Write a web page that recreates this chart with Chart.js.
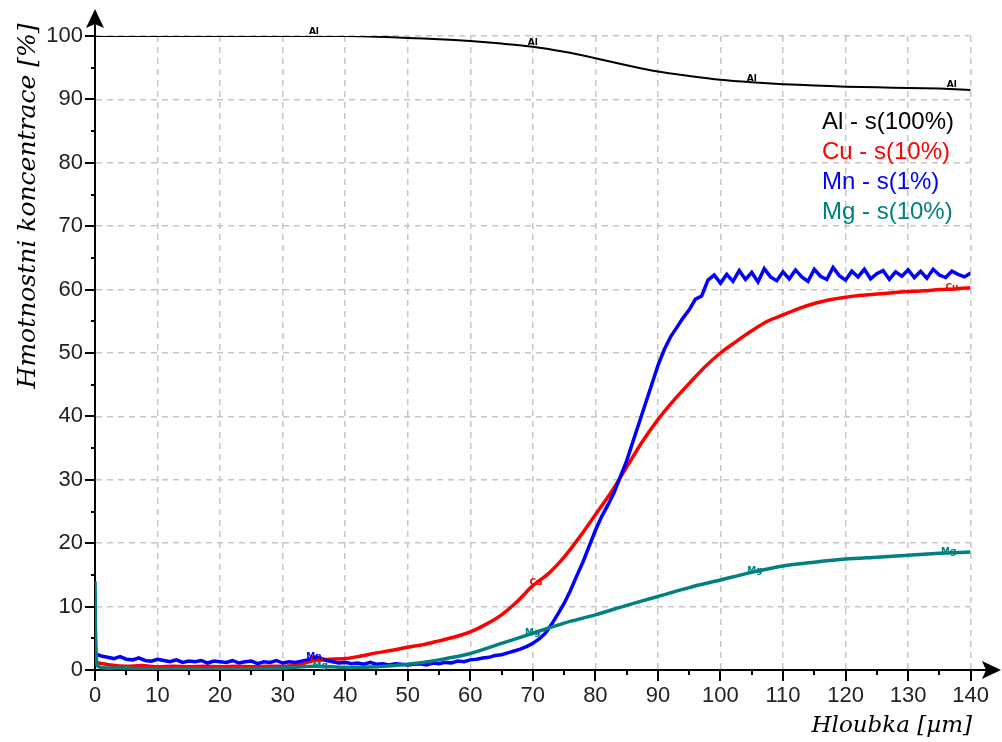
<!DOCTYPE html>
<html><head><meta charset="utf-8">
<script src="https://cdn.jsdelivr.net/npm/chart.js@4.4.0/dist/chart.umd.min.js"></script>
<style>html,body{margin:0;padding:0;background:#fff;}#wrap{width:1002px;height:742px;position:relative;}</style>
</head><body><div id="wrap"><canvas id="c" width="1002" height="742"></canvas></div>
<script>
// ---- data ----
const xTickLabels = ['0','10','20','30','40','50','60','70','80','90','100','110','120','130','140'];
const yTickLabels = ['0','10','20','30','40','50','60','70','80','90','100'];

const alX = [0,5,10,15,20,25,30,35,40,45,50,55,60,65,70,75,80,85,90,95,100,105,110,115,120,125,130,135,140];
const alY = [100,100,100,100,100,100,100,100,100,99.9,99.7,99.5,99.2,98.8,98.3,97.5,96.5,95.4,94.4,93.7,93.1,92.7,92.4,92.2,92.0,91.9,91.8,91.7,91.5];

const cuX = [0,2.5,5,7.5,10,12.5,15,17.5,20,22.5,25,27.5,30,32.5,35,37.5,40,42.5,45,47.5,50,52.5,55,57.5,60,62.5,65,67.5,70,72.5,75,77.5,80,82.5,85,87.5,90,92.5,95,97.5,100,102.5,105,107.5,110,112.5,115,117.5,120,122.5,125,127.5,130,132.5,135,137.5,140];
const cuY = [1.2,0.8,0.6,0.7,0.5,0.6,0.5,0.6,0.5,0.6,0.5,0.6,0.6,0.8,1.5,1.7,1.8,2.2,2.7,3.1,3.6,4.0,4.6,5.2,6.0,7.2,8.7,10.8,13.3,15.2,17.8,21.0,24.5,28.0,32.0,36.0,39.5,42.5,45.2,47.8,50.0,51.8,53.5,55.0,56.0,57.0,57.8,58.4,58.8,59.1,59.3,59.5,59.7,59.8,60.0,60.1,60.3];

const mnX = [0,1,2,3,4,5,6,7,8,9,10,11,12,13,14,15,16,17,18,19,20,21,22,23,24,25,26,27,28,29,30,31,32,33,34,35,36,37,38,39,40,41,42,43,44,45,46,47,48,49,50,51,52,53,54,55,56,57,58,59,60,61,62,63,64,65,66,67,68,69,70,71,72,73,74,75,76,77,78,79,80,81,82,83,84,85,86,87,88,89,90,91,92,93,94,95,96,97,98,99,100,101,102,103,104,105,106,107,108,109,110,111,112,113,114,115,116,117,118,119,120,121,122,123,124,125,126,127,128,129,130,131,132,133,134,135,136,137,138,139,140];
const mnY = [2.6,2.2,2.0,1.8,2.1,1.7,1.6,1.9,1.5,1.4,1.7,
  1.5,1.3,1.6,1.2,1.4,1.3,1.5,1.1,1.4,1.3,
  1.2,1.5,1.1,1.3,1.4,1.0,1.3,1.2,1.5,1.1,
  1.3,1.2,1.4,1.6,2.0,1.9,1.5,1.3,1.1,1.2,
  1.0,1.1,0.9,1.2,0.9,1.0,0.8,1.0,0.9,0.8,
  0.9,1.0,0.8,1.1,1.0,1.2,1.1,1.4,1.3,1.6,
  1.7,1.9,2.0,2.3,2.4,2.7,3.0,3.3,3.7,4.2,
  4.9,5.8,7.2,8.8,10.5,12.5,14.8,17.0,19.5,22.0,
  24.2,26.0,28.0,30.5,33.0,36.0,39.0,42.0,45.0,48.0,
  50.5,52.5,54.0,55.5,56.8,58.5,59.0,61.5,62.3,61.0,
  62.4,61.3,63.0,61.6,62.7,61.2,63.3,62.0,61.4,62.8,
  61.7,63.1,62.0,61.3,63.2,62.1,61.6,63.5,62.2,61.5,
  62.9,62.0,63.2,61.7,62.5,63.0,61.6,62.8,62.1,63.1,
  61.9,62.9,61.8,63.2,62.3,61.9,62.9,62.4,62.0,62.6];

const mgX = [0,0.3,5,10,15,20,25,30,35,40,45,50,55,60,65,70,75,80,85,90,95,100,105,110,115,120,125,130,135,140];
const mgY = [14,0.8,0.3,0.2,0.2,0.2,0.2,0.3,0.6,0.4,0.5,0.9,1.6,2.6,4.2,5.8,7.4,8.7,10.2,11.6,13.0,14.2,15.4,16.4,17.0,17.5,17.8,18.1,18.4,18.6];

const seriesNames = ['Al - s(100%)','Cu - s(10%)','Mn - s(1%)','Mg - s(10%)'];
const seriesColors = ['#000000','#ff0000','#0000ff','#008080'];
const markerTags = ['Al','Cu','Mn','Mg'];
const markerXs = [[35,70,105,137],[35.5,70.5,137],[35],[36,70,105.5,136.5]];

const TICK_FONT = '"Liberation Sans Narrow","Liberation Sans",Arial,sans-serif';

function pts(xs, ys){ return xs.map((x,i)=>({x:x,y:ys[i]})); }
function interp(xs, ys, x){
  for(let i=0;i<xs.length-1;i++){
    if(x>=xs[i] && x<=xs[i+1]){ const t=(x-xs[i])/(xs[i+1]-xs[i]); return ys[i]+t*(ys[i+1]-ys[i]); }
  }
  return ys[ys.length-1];
}
const allX=[alX,cuX,mnX,mgX], allY=[alY,cuY,mnY,mgY];

const overlay = {
  id:'overlay',
  afterDraw(chart){
    const ctx=chart.ctx, xs=chart.scales.x, ys=chart.scales.y, a=chart.chartArea;
    ctx.save();
    // tick marks
    ctx.strokeStyle='#000'; ctx.lineWidth=2;
    for(let v=0; v<=100; v+=5){
      const p=Math.round(ys.getPixelForValue(v));
      const major=v%10===0;
      ctx.beginPath(); ctx.moveTo(a.left-(major?10:4),p); ctx.lineTo(a.left,p); ctx.stroke();
    }
    for(let v=0; v<=140; v+=5){
      const p=Math.round(xs.getPixelForValue(v));
      const major=v%10===0;
      ctx.beginPath(); ctx.moveTo(p,a.bottom); ctx.lineTo(p,a.bottom+(major?11:5)); ctx.stroke();
    }
    // axis extensions and arrows
    ctx.beginPath(); ctx.moveTo(a.left,a.top); ctx.lineTo(a.left,24); ctx.stroke();
    ctx.beginPath(); ctx.moveTo(a.right,a.bottom); ctx.lineTo(988,a.bottom); ctx.stroke();
    ctx.fillStyle='#000';
    ctx.beginPath(); ctx.moveTo(a.left,9); ctx.lineTo(a.left-9,28); ctx.lineTo(a.left,24); ctx.lineTo(a.left+9,28); ctx.closePath(); ctx.fill();
    ctx.beginPath(); ctx.moveTo(1001,a.bottom); ctx.lineTo(982,a.bottom-9); ctx.lineTo(986,a.bottom); ctx.lineTo(982,a.bottom+9); ctx.closePath(); ctx.fill();
    // small series markers
    ctx.font='bold 9px "DejaVu Sans",sans-serif'; ctx.textAlign='center'; ctx.textBaseline='middle';
    for(let s=0;s<4;s++){
      ctx.fillStyle=seriesColors[s];
      markerXs[s].forEach(mx=>{
        const my=interp(allX[s],allY[s],mx);
        ctx.fillText(markerTags[s], xs.getPixelForValue(mx), ys.getPixelForValue(my)-(s===0?4:1));
      });
    }
    // legend text
    ctx.font='24px "Liberation Sans",Arial,sans-serif'; ctx.textAlign='left'; ctx.textBaseline='alphabetic';
    const base=[129,159,189,219];
    for(let s=0;s<4;s++){ ctx.fillStyle=seriesColors[s]; ctx.fillText(seriesNames[s],822,base[s]); }
    // axis titles
    ctx.fillStyle='#000';
    ctx.font='italic 23px "DejaVu Serif",serif';
    ctx.textAlign='right'; ctx.textBaseline='middle';
    ctx.fillText('Hloubka [µm]', 972, 726);
    ctx.font='italic 25px "DejaVu Serif",serif';
    ctx.translate(28,206); ctx.rotate(-Math.PI/2);
    ctx.textAlign='center';
    ctx.fillText('Hmotnostni koncentrace [%]',0,0);
    ctx.restore();
  }
};

const gridColor = c => (c.tick && c.tick.value%10===0 && c.tick.value!==0) ? '#c6c6c6' : 'rgba(0,0,0,0)';

new Chart(document.getElementById('c'), {
  type:'line',
  data:{ datasets:[
    {label:seriesNames[2], data:pts(mnX,mnY), borderColor:seriesColors[2], borderWidth:3.5, order:2},
    {label:seriesNames[3], data:pts(mgX,mgY), borderColor:seriesColors[3], borderWidth:3.5, tension:0.3, order:1},
    {label:seriesNames[1], data:pts(cuX,cuY), borderColor:seriesColors[1], borderWidth:3.5, tension:0.3, order:3},
    {label:seriesNames[0], data:pts(alX,alY), borderColor:seriesColors[0], borderWidth:2, tension:0.3, order:0}
  ]},
  options:{
    responsive:false, animation:false, devicePixelRatio:1,
    layout:{padding:{top:36,right:30,left:0,bottom:0}},
    plugins:{legend:{display:false}, tooltip:{enabled:false}},
    elements:{point:{radius:0}},
    scales:{
      x:{type:'linear', min:0, max:140,
        afterFit(s){ s.height=72; },
        afterBuildTicks(s){ s.ticks=[]; for(let v=0;v<=140;v+=5) s.ticks.push({value:v}); },
        ticks:{autoSkip:false, maxRotation:0, padding:13, color:'#222', font:{family:TICK_FONT,size:22},
          callback:v=> v%10===0 ? xTickLabels[v/10] : ''},
        grid:{color:gridColor, lineWidth:1.5, drawTicks:false},
        border:{display:true, color:'#000', width:2, dash:[6,5]}
      },
      y:{type:'linear', min:0, max:100,
        afterFit(s){ s.width=95; },
        afterBuildTicks(s){ s.ticks=[]; for(let v=0;v<=100;v+=5) s.ticks.push({value:v}); },
        ticks:{autoSkip:false, padding:12, color:'#222', font:{family:TICK_FONT,size:22},
          callback:v=> v%10===0 ? yTickLabels[v/10] : ''},
        grid:{color:gridColor, lineWidth:1.5, drawTicks:false},
        border:{display:true, color:'#000', width:2, dash:[6,5]}
      }
    }
  },
  plugins:[overlay]
});
</script></body></html>
